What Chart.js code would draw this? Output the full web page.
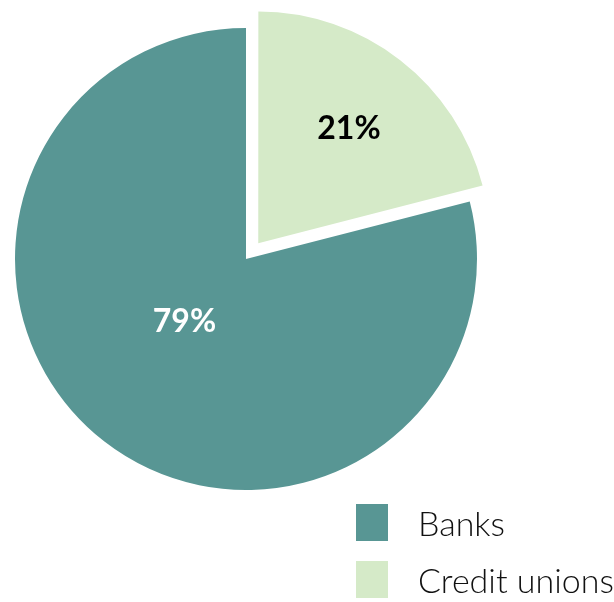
<!DOCTYPE html>
<html>
<head>
<meta charset="utf-8">
<script src="https://cdn.jsdelivr.net/npm/chart.js@4"></script>
<style>
  html, body { margin: 0; padding: 0; background: #fff; }
  #wrap { position: relative; width: 614px; height: 602px; }
  #legend { position: absolute; left: 356px; top: 504px; margin: 0; padding: 0; list-style: none;
    font-family: Lato, "Open Sans", sans-serif; font-weight: 300; font-size: 34px; color: #111; }
  #legend li { display: flex; align-items: center; height: 37px; margin-bottom: 20px; white-space: nowrap; }
  #legend .box { width: 32px; height: 37px; margin-right: 30px; flex: none; }
</style>
</head>
<body>
<div id="wrap">
  <canvas id="pie"></canvas>
  <ul id="legend"></ul>
</div>
<script>
const categories = ['Banks', 'Credit unions'];
const shares = [79, 21];
const sliceColors = ['#589694', '#d5eac8'];
// how far each slice is pulled out, in pixels (Chart.js moves an arc by offset / 4)
const slicePull = [0, 20];
const labelColors = ['#ffffff', '#000000'];
// where each value label sits: distance as a fraction of the radius, and a turn away from the slice middle (degrees)
const labelRadius = [0.378, 0.635];
const labelTurn = [7, 0.4];

const sliceLabels = {
  id: 'sliceLabels',
  afterDatasetsDraw(chart) {
    const ctx = chart.ctx;
    const meta = chart.getDatasetMeta(0);
    ctx.save();
    ctx.font = 'bold 32px Lato, "Open Sans", sans-serif';
    ctx.textAlign = 'center';
    ctx.textBaseline = 'middle';
    meta.data.forEach((arc, i) => {
      const { x, y, startAngle, endAngle, outerRadius } = arc.getProps(['x', 'y', 'startAngle', 'endAngle', 'outerRadius'], true);
      const mid = (startAngle + endAngle) / 2;
      const cx = x + Math.cos(mid) * slicePull[i];
      const cy = y + Math.sin(mid) * slicePull[i];
      const a = mid + labelTurn[i] * Math.PI / 180;
      const r = outerRadius * labelRadius[i];
      ctx.fillStyle = labelColors[i];
      ctx.fillText(shares[i] + '%', cx + Math.cos(a) * r, cy + Math.sin(a) * r + 1);
    });
    ctx.restore();
  }
};

const chart = new Chart(document.getElementById('pie'), {
  type: 'pie',
  data: {
    labels: categories,
    datasets: [{
      data: shares,
      backgroundColor: sliceColors,
      borderWidth: 0,
      offset: slicePull.map(p => p * 4),
      hoverOffset: 0,
    }],
  },
  options: {
    responsive: true,
    maintainAspectRatio: false,
    animation: false,
    // banks start where the credit union slice ends, so credit unions sit at 12 o'clock
    rotation: shares[1] / 100 * 360,
    radius: 231,
    layout: { padding: { left: 5, top: 18, right: 127, bottom: 102 } },
    plugins: {
      legend: { display: false },
      tooltip: { enabled: false },
    },
  },
  plugins: [sliceLabels],
});

// legend built from the chart's own labels and colours
const legendEl = document.getElementById('legend');
chart.data.labels.forEach((name, i) => {
  const li = document.createElement('li');
  const box = document.createElement('span');
  box.className = 'box';
  box.style.background = chart.data.datasets[0].backgroundColor[i];
  li.appendChild(box);
  li.appendChild(document.createTextNode(name));
  legendEl.appendChild(li);
});
</script>
</body>
</html>
